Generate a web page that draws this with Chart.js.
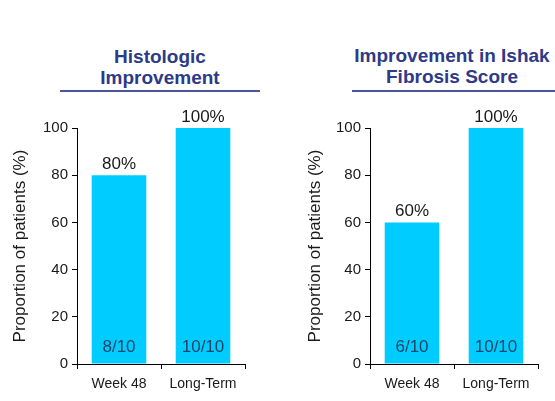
<!DOCTYPE html>
<html>
<head>
<meta charset="utf-8">
<script src="https://cdn.jsdelivr.net/npm/chart.js@4"></script>
<style>
  body { margin: 0; background: #fff; }
  #pagina { position: relative; width: 555px; height: 401px; overflow: hidden; font-family: "Liberation Sans", Arial, sans-serif; }
  .titulo { position: absolute; color: #2e3a87; font-weight: bold; font-size: 19px; line-height: 21px; text-align: center; white-space: nowrap; }
  .raya { position: absolute; height: 2px; background: #4a5599; }
  .lienzo { position: absolute; top: 100px; }
</style>
</head>
<body>
<div id="pagina">
  <div class="titulo" style="left:60px; width:200px; top:46px;">Histologic<br>Improvement</div>
  <div class="raya" style="left:60px; width:200px; top:90px;"></div>
  <div class="titulo" style="left:350px; width:204px; top:45px;">Improvement in Ishak<br>Fibrosis Score</div>
  <div class="raya" style="left:352px; width:203px; top:90px;"></div>
  <canvas id="graficoHisto" class="lienzo" style="left:0px;" width="277" height="301"></canvas>
  <canvas id="graficoIshak" class="lienzo" style="left:295px;" width="260" height="301"></canvas>
</div>
<script>
const categorias = ["Week 48", "Long-Term"];
const valoresHisto = [80, 100];
const conteosHisto = ["8/10", "10/10"];
const valoresIshak = [60, 100];
const conteosIshak = ["6/10", "10/10"];
const ejeMin = 0;
const ejeMax = 100;
const ejePaso = 20;

const colorBarra = "#00ccff";
const fuente = "'Liberation Sans', Arial, sans-serif";

// etiquetas encima y dentro de cada barra
const etiquetasBarras = {
  id: "etiquetasBarras",
  afterDatasetsDraw(chart, args, opts) {
    const ctx = chart.ctx;
    const meta = chart.getDatasetMeta(0);
    const y0 = chart.scales.y.getPixelForValue(0);
    ctx.save();
    ctx.textAlign = "center";
    ctx.textBaseline = "middle";
    meta.data.forEach((barra, i) => {
      ctx.font = "17px " + fuente;
      ctx.fillStyle = "#1a1a1a";
      ctx.fillText(chart.data.datasets[0].data[i] + "%", barra.x, barra.y - 11);
      ctx.fillStyle = "#1d4466";
      ctx.fillText(opts.conteos[i], barra.x, y0 - 17);
    });
    ctx.restore();
  }
};

function crearGrafico(id, valores, conteos, anchoEje, rellenoDer) {
  const ctx = document.getElementById(id).getContext("2d");
  return new Chart(ctx, {
    type: "bar",
    data: {
      labels: categorias,
      datasets: [{
        data: valores,
        backgroundColor: colorBarra,
        borderWidth: 0,
        barPercentage: 0.65,
        categoryPercentage: 1
      }]
    },
    plugins: [etiquetasBarras],
    options: {
      responsive: false,
      animation: false,
      layout: { padding: { top: 28, right: rellenoDer, left: 0, bottom: 0 } },
      scales: {
        x: {
          offset: true,
          afterFit: s => { s.height = 37; },
          grid: { display: true, drawOnChartArea: false, offset: true, tickLength: 5, color: "#000" },
          border: { color: "#000", width: 1 },
          ticks: { color: "#1a1a1a", padding: 7, font: { family: fuente, size: 14 } }
        },
        y: {
          min: ejeMin,
          max: ejeMax,
          afterFit: s => { s.width = anchoEje; },
          grid: { display: true, drawOnChartArea: false, tickLength: 5, color: "#000" },
          border: { color: "#000", width: 1 },
          ticks: { stepSize: ejePaso, color: "#1a1a1a", padding: 4, font: { family: fuente, size: 15 } },
          title: {
            display: true,
            text: "Proportion of patients (%)",
            color: "#1a1a1a",
            padding: { top: 10, bottom: 0 },
            font: { family: fuente, size: 17 }
          }
        }
      },
      plugins: {
        legend: { display: false },
        tooltip: { enabled: false },
        etiquetasBarras: { conteos: conteos }
      }
    }
  });
}

crearGrafico("graficoHisto", valoresHisto, conteosHisto, 77, 32);
crearGrafico("graficoIshak", valoresIshak, conteosIshak, 75, 17);
</script>
</body>
</html>
